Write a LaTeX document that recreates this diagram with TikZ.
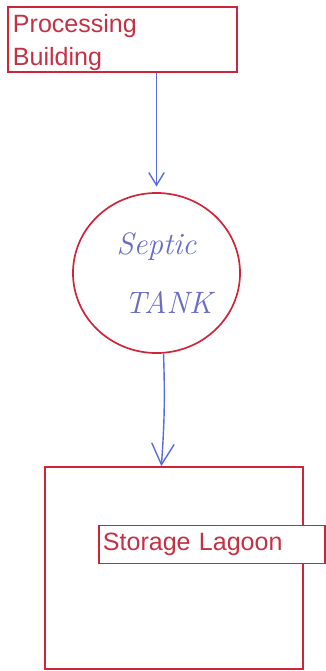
\documentclass[tikz,border=0pt]{standalone}
\usepackage{fontspec}
\newfontfamily\labelfont{Liberation Sans}
\usetikzlibrary{shapes.geometric,arrows.meta}
\definecolor{boxred}{RGB}{208,36,58}
\definecolor{txtred}{RGB}{196,48,68}
\definecolor{penblue}{RGB}{88,108,226}
\definecolor{inkblue}{RGB}{104,108,196}
\begin{document}
\begin{tikzpicture}[x=0.025cm, y=-0.025cm]
    \tikzstyle{every node}=[font=\labelfont\fontsize{17.8}{23}\selectfont, text=txtred]
    \tikzset{
        n/.style={draw=boxred, line width=1.2pt, inner sep=0pt, align=left},
        flow/.style={penblue, line width=1pt}
        }
    \useasboundingbox (0,0) rectangle (326,671);

    %building
    \node (building) [n, minimum width=5.725cm, minimum height=1.625cm, text width=5.475cm, text depth=22.5pt] at (122.5,39.5) {Processing\\Building};

    %tank
    \node (tank) [ellipse, draw=boxred, line width=1.2pt, minimum width=4.175cm, minimum height=4cm, inner sep=0pt,
        font=\itshape\fontsize{22}{42}\selectfont, text=inkblue, align=center] at (156.5,273) {Septic\\\hspace*{0.6cm}TANK};

    %storage
    \node (storage) [n, minimum width=6.45cm, minimum height=5.05cm] at (174,568) {};
    \node (lagoon) [n, fill=white, minimum width=5.65cm, minimum height=0.95cm, text width=5.45cm] at (212,544.5) {Storage Lagoon};

    \draw [flow, -{Straight Barb[length=9pt, width=11pt]}, shorten >=4pt] (building.south -| tank.north) -- (tank.north);
    \draw [flow, -{Straight Barb[length=15pt, width=16pt]}] ([xshift=5pt]tank.south) to [bend left=3] ([xshift=-9pt]storage.north);
\end{tikzpicture}
\end{document}
